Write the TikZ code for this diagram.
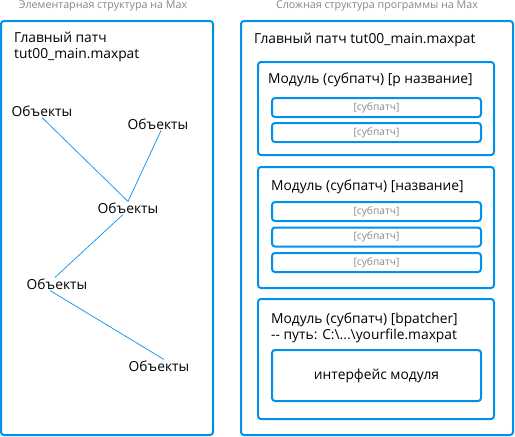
\documentclass[tikz,border=0pt]{standalone}
\usepackage{fontspec}
\setmainfont{Open Sans}
\usetikzlibrary{positioning}

\definecolor{frameblue}{RGB}{0,145,234}
\definecolor{linkblue}{RGB}{30,155,240}
\definecolor{captiongray}{RGB}{135,135,135}

\tikzset{
  frame/.style={draw=frameblue, line width=2pt, rounded corners=3pt},
  caption/.style={text=captiongray, font=\fontsize{10.7}{12}\selectfont, inner sep=0pt},
  heading/.style={font=\fontsize{13.8}{16}\selectfont, inner sep=0pt, anchor=west, align=left},
  objlabel/.style={font=\fontsize{13.8}{15}\selectfont, inner sep=1pt},
  subbox/.style={frame, minimum width=209pt, minimum height=19pt, inner sep=0pt,
    text=captiongray, font=\fontsize{10.2}{12}\selectfont},
  link/.style={draw=linkblue, line width=0.8pt}
}

\begin{document}
\begin{tikzpicture}[x=1pt,y=-1pt]

% Canvas in pixels of the reference (515x437), y runs downwards
\useasboundingbox (0,0) rectangle (515,437);

% --- Captions above the two panels ---
\node[caption] (leftcap)  at (103,6) {Элементарная структура на Max};
\node[caption] (rightcap) at (377,6) {Сложная структура программы на Max};

% --- Left panel: elementary structure ---
\draw[frame] (1,21) rectangle (213,435);
\node[heading] (leftmain) at (14,47) {Главный патч\\tut00\_main.maxpat};

\node[objlabel] (obja) at (42,111) {Объекты};
\node[objlabel] (objb) at (158,124) {Объекты};
\node[objlabel] (objc) at (128,208) {Объекты};
\node[objlabel] (objd) at (57,284) {Объекты};
\node[objlabel] (obje) at (159,366) {Объекты};

\draw[link] (obja.south) -- (objc.north);
\draw[link] ([xshift=3pt]objb.south) -- (objc.north);
\draw[link] ([xshift=-5pt]objc.south) -- ([xshift=-2pt]objd.north);
\draw[link] ([xshift=-7pt]objd.south) -- ([xshift=5pt]obje.north);

% --- Right panel: complex program structure ---
\draw[frame] (241,21) rectangle (513,435);
\node[heading] (rightmain) at (254,40) {Главный патч tut00\_main.maxpat};

% Module 1 with two subpatches
\draw[frame] (258,62) rectangle (494,155);
\node[heading] (modone) at (268,80) {Модуль (субпатч) [р название]};
\foreach \y [count=\i] in {107.5,132.5}
  \node[subbox] (subone\i) at (376.5,\y) {[субпатч]};

% Module 2 with three subpatches
\draw[frame] (258,167) rectangle (494,288);
\node[heading] (modtwo) at (271,187) {Модуль (субпатч) [название]};
\foreach \y [count=\i] in {211.5,237,262.5}
  \node[subbox] (subtwo\i) at (376.5,\y) {[субпатч]};

% Module 3: bpatcher with its interface
\draw[frame] (258,299) rectangle (494,419);
\node[heading] (modthree) at (271,328) {Модуль (субпатч) [bpatcher]\\{-}{-} путь: C:\textbackslash...\textbackslash yourfile.maxpat};
\node[frame, minimum width=209pt, minimum height=51pt, inner sep=0pt,
  font=\fontsize{13.8}{15}\selectfont] (iface) at (376.5,375.5) {интерфейс модуля};

\end{tikzpicture}
\end{document}
